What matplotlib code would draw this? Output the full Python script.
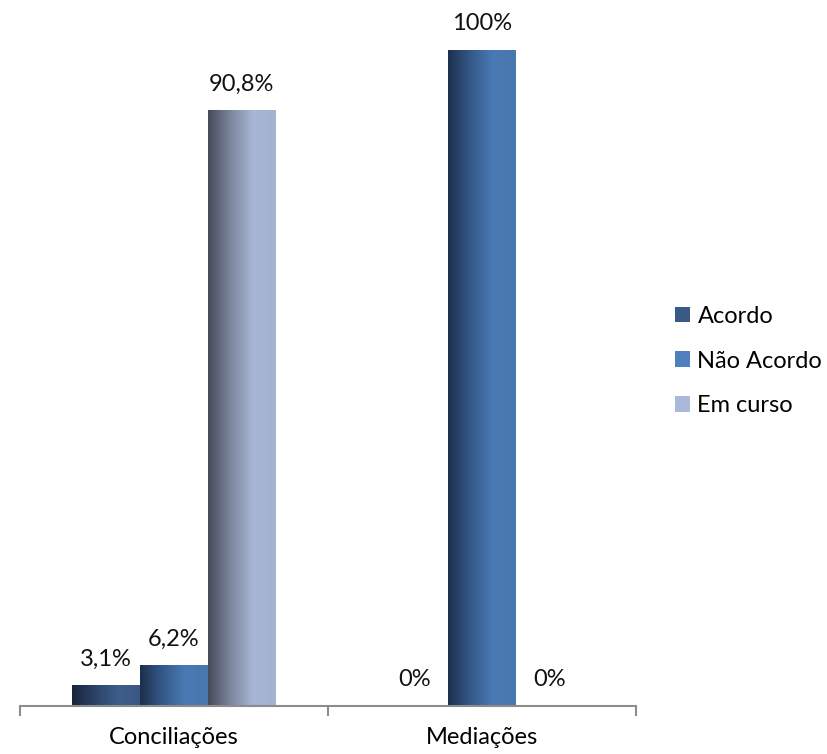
import numpy as np
import matplotlib.pyplot as plt
from matplotlib.colors import LinearSegmentedColormap
from matplotlib.patches import Patch

categories = ['Conciliações', 'Mediações']
series = ['Acordo', 'Não Acordo', 'Em curso']
values = {
    'Acordo': [3.1, 0.0],
    'Não Acordo': [6.2, 100.0],
    'Em curso': [90.8, 0.0],
}
labels = {
    'Acordo': ['3,1%', '0%'],
    'Não Acordo': ['6,2%', '100%'],
    'Em curso': ['90,8%', '0%'],
}

# gradient stops (left dark -> right light) and legend colours
grad = {
    'Acordo': ['#17243a', '#2b4266', '#3d5d8a', '#3a5883'],
    'Não Acordo': ['#1c2f4c', '#35598a', '#4a7ab4', '#4876ae'],
    'Em curso': ['#454a58', '#7c879f', '#a6b6d4', '#a2b2cf'],
}
legend_colors = {'Acordo': '#3a5a86', 'Não Acordo': '#4e80bd', 'Em curso': '#a9b9d9'}

plt.rcParams['font.family'] = ['Lato', 'DejaVu Sans']
fs = 17
fig = plt.figure(figsize=(8.27, 7.54), dpi=100)
ax = fig.add_axes([20 / 827, 1 - 706 / 754, (636 - 20) / 827, (706 - 50) / 754])

x = np.arange(len(categories))
width = 0.22
for i, s in enumerate(series):
    bars = ax.bar(x + (i - 1) * width, values[s], width, color='none', edgecolor='none')
    cmap = LinearSegmentedColormap.from_list(s, grad[s])
    g = np.linspace(0, 1, 256).reshape(1, -1)
    for b, lab in zip(bars, labels[s]):
        x0, w, h = b.get_x(), b.get_width(), b.get_height()
        if h > 0:
            ax.imshow(g, cmap=cmap, aspect='auto', extent=[x0, x0 + w, 0, h],
                      interpolation='bicubic', zorder=2)
        ax.text(x0 + w / 2, h + 2.4, lab, ha='center', va='bottom', fontsize=fs,
                color='#111111', clip_on=False)

ax.set_xlim(-0.5, 1.5)
ax.set_ylim(0, 100)
ax.set_yticks([])
for sp in ['top', 'right', 'left']:
    ax.spines[sp].set_visible(False)
ax.spines['bottom'].set_color('#8c8c8c')
ax.spines['bottom'].set_linewidth(1.5)
ax.set_xticks([-0.5, 0.5, 1.5], minor=False)
ax.set_xticklabels([])
ax.set_xticks(x, minor=True)
ax.set_xticklabels(categories, minor=True, fontsize=fs)
ax.tick_params(axis='x', which='major', length=7, width=1.5, color='#8c8c8c', direction='out')
ax.tick_params(axis='x', which='minor', length=0, pad=15)

handles = [Patch(facecolor=legend_colors[s], edgecolor='none') for s in series]
fig.legend(handles, series, loc='center left', bbox_to_anchor=(675 / 827, 1 - 361 / 754),
           frameon=False, fontsize=fs, handlelength=0.65, handleheight=0.65,
           handletextpad=0.3, labelspacing=1.0, borderpad=0, borderaxespad=0)

fig.savefig('out.png', dpi=100)
